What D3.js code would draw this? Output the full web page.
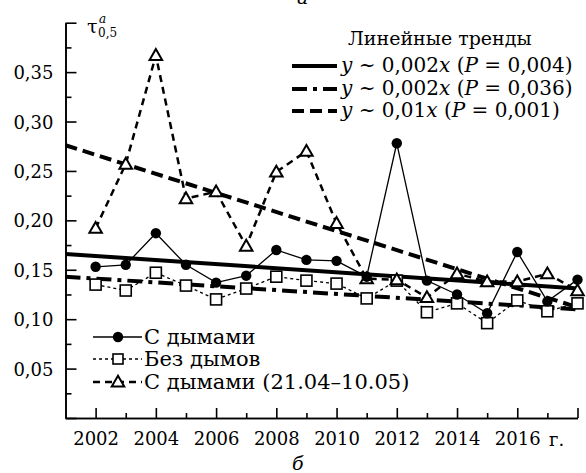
<!DOCTYPE html>
<html>
<head>
<meta charset="utf-8">
<script src="https://cdn.jsdelivr.net/npm/d3@7"></script>
<style>
  body { margin: 0; background: #fff; }
</style>
</head>
<body>
<div id="chart"></div>
<script>
var w = 586;
var h = 473;
var serif = "DejaVu Serif";

// data
var years = [2002, 2003, 2004, 2005, 2006, 2007, 2008, 2009, 2010,
             2011, 2012, 2013, 2014, 2015, 2016, 2017, 2018];
var withSmoke = [0.153, 0.155, 0.187, 0.155, 0.137, 0.144, 0.170, 0.160, 0.159,
                 0.143, 0.278, 0.139, 0.125, 0.106, 0.168, 0.118, 0.140];
var noSmoke = [0.135, 0.129, 0.147, 0.134, 0.120, 0.131, 0.143, 0.139, 0.136,
               0.121, 0.139, 0.107, 0.116, 0.096, 0.119, 0.108, 0.116];
var smokePeriod = [0.192, 0.257, 0.367, 0.222, 0.229, 0.174, 0.249, 0.270, 0.197,
                   0.141, 0.140, 0.122, 0.146, 0.138, 0.138, 0.146, 0.129];
var yTicks = [0.05, 0.10, 0.15, 0.20, 0.25, 0.30, 0.35];
var xTicks = [2002, 2004, 2006, 2008, 2010, 2012, 2014, 2016];

// linear trends (value at 2001 and at 2018)
var trendNames = ["y ~ 0,002x (P = 0,004)", "y ~ 0,002x (P = 0,036)", "y ~ 0,01x (P = 0,001)"];
var trendStart = [0.166, 0.143, 0.276];
var trendEnd = [0.131, 0.110, 0.112];
var trendDash = ["none", "15,6,4,6", "12,6"];

var x = d3.scaleLinear().domain([2001, 2018]).range([65.5, 577.5]);
var y = d3.scaleLinear().domain([0, 0.40]).range([418, 22.7]);

var svg = d3.select("#chart").append("svg")
    .attr("width", w)
    .attr("height", h);

// axes
var minorY = d3.range(0, 0.401, 0.025).filter(function(v){ return Math.round(v * 1000) % 50 != 0; });
var majorY = d3.range(0, 0.401, 0.05);
svg.append("g")
    .attr("transform", "translate(" + x(2001) + ",0)")
    .call(d3.axisLeft(y).tickValues(minorY).tickSizeInner(-6).tickSizeOuter(0).tickFormat(""));
var yAxis = svg.append("g")
    .attr("transform", "translate(" + x(2001) + ",0)")
    .call(d3.axisLeft(y).tickValues(majorY).tickSizeInner(-11).tickSizeOuter(0)
        .tickFormat(function(d){
            if (yTicks.some(function(t){ return Math.abs(t - d) < 1e-6; })) return d3.format(".2f")(d).replace(".", ",");
            return "";
        }));
yAxis.selectAll("text")
    .attr("x", -12).attr("dy", "0.36em").attr("data-fs", 18);

var minorX = d3.range(2003, 2018, 2);
var majorX = d3.range(2002, 2019, 2);
svg.append("g")
    .attr("transform", "translate(0," + y(0) + ")")
    .call(d3.axisBottom(x).tickValues(minorX).tickSizeInner(-5).tickSizeOuter(0).tickFormat(""));
var xAxis = svg.append("g")
    .attr("transform", "translate(0," + y(0) + ")")
    .call(d3.axisBottom(x).tickValues(majorX).tickSizeInner(-10).tickSizeOuter(0)
        .tickFormat(function(d){ return xTicks.indexOf(d) >= 0 ? d : ""; }));
xAxis.selectAll("text")
    .attr("y", 14).attr("dy", "0.71em").attr("data-fs", 18);
svg.selectAll(".domain, .tick line").attr("stroke", "#000").attr("stroke-width", 1.6);

svg.append("text").attr("x", 549).attr("y", 446).attr("data-fs", 18).text("г.");

// trend lines
trendStart.forEach(function(v, i){
    svg.append("line")
        .attr("x1", x(2001)).attr("y1", y(v))
        .attr("x2", x(2018)).attr("y2", y(trendEnd[i]))
        .attr("stroke", "#000").attr("stroke-width", 4)
        .attr("stroke-dasharray", trendDash[i]);
});

// series
var line = d3.line()
    .x(function(d, i){ return x(years[i]); })
    .y(function(d){ return y(d); });

svg.append("path").datum(noSmoke).attr("d", line)
    .attr("fill", "none").attr("stroke", "#000").attr("stroke-width", 1.3).attr("stroke-dasharray", "3,3");
svg.append("path").datum(smokePeriod).attr("d", line)
    .attr("fill", "none").attr("stroke", "#000").attr("stroke-width", 2.5).attr("stroke-dasharray", "7,5");
svg.append("path").datum(withSmoke).attr("d", line)
    .attr("fill", "none").attr("stroke", "#000").attr("stroke-width", 1.3);

var tri = d3.symbol().type(d3.symbolTriangle).size(68);

svg.selectAll(".sq").data(noSmoke).enter().append("rect")
    .attr("x", function(d, i){ return x(years[i]) - 5.5; })
    .attr("y", function(d){ return y(d) - 5.5; })
    .attr("width", 11).attr("height", 11)
    .attr("fill", "#fff").attr("stroke", "#000").attr("stroke-width", 1.6);

svg.selectAll(".tri").data(smokePeriod).enter().append("path")
    .attr("d", tri)
    .attr("transform", function(d, i){ return "translate(" + x(years[i]) + "," + (y(d) + 1) + ")"; })
    .attr("fill", "#fff").attr("stroke", "#000").attr("stroke-width", 2);

svg.selectAll(".dot").data(withSmoke).enter().append("circle")
    .attr("cx", function(d, i){ return x(years[i]); })
    .attr("cy", function(d){ return y(d); })
    .attr("r", 5.2).attr("fill", "#000");

// trend legend
svg.append("text").attr("x", 348).attr("y", 45).attr("data-fs", 19).text("Линейные тренды");
var legY = [66, 89, 111];
trendNames.forEach(function(name, i){
    svg.append("line")
        .attr("x1", 292).attr("x2", 337).attr("y1", legY[i]).attr("y2", legY[i])
        .attr("stroke", "#000").attr("stroke-width", 4)
        .attr("stroke-dasharray", trendDash[i]);
    var t = svg.append("text").attr("x", 341).attr("y", legY[i] + 6).attr("data-fs", 20);
    // italic y, x, P
    name.split(/([yxP])/).forEach(function(part){
        if (!part) return;
        t.append("tspan").style("font-style", /^[yxP]$/.test(part) ? "italic" : "normal").text(part);
    });
});

// series legend
var serNames = ["С дымами", "Без дымов", "С дымами (21.04–10.05)"];
var serY = [337, 359, 382];
svg.append("line").attr("x1", 93).attr("x2", 142).attr("y1", serY[0]).attr("y2", serY[0])
    .attr("stroke", "#000").attr("stroke-width", 1.3);
svg.append("circle").attr("cx", 118).attr("cy", serY[0]).attr("r", 5.2).attr("fill", "#000");
svg.append("line").attr("x1", 93).attr("x2", 142).attr("y1", serY[1]).attr("y2", serY[1])
    .attr("stroke", "#000").attr("stroke-width", 1.3).attr("stroke-dasharray", "3,3");
svg.append("rect").attr("x", 113).attr("y", serY[1] - 5).attr("width", 10).attr("height", 10)
    .attr("fill", "#fff").attr("stroke", "#000").attr("stroke-width", 1.6);
svg.append("line").attr("x1", 93).attr("x2", 142).attr("y1", serY[2]).attr("y2", serY[2])
    .attr("stroke", "#000").attr("stroke-width", 2.5).attr("stroke-dasharray", "7,5");
svg.append("path").attr("d", tri).attr("transform", "translate(118," + (serY[2] + 1) + ")")
    .attr("fill", "#fff").attr("stroke", "#000").attr("stroke-width", 2);
serNames.forEach(function(name, i){
    svg.append("text").attr("x", 144).attr("y", serY[i] + 7).attr("data-fs", 21).text(name);
});

// axis label tau
svg.append("text").attr("x", 87).attr("y", 33).attr("data-fs", 19).text("τ");
svg.append("text").attr("x", 98).attr("y", 37).attr("data-fs", 12).text("0,5");
svg.append("text").attr("x", 99).attr("y", 23).attr("data-fs", 12).style("font-style", "italic").text("a");

// panel letters
svg.append("text").attr("x", 297).attr("y", 4).attr("data-fs", 19).style("font-style", "italic").text("a");
svg.append("text").attr("x", 292).attr("y", 470).attr("data-fs", 19).style("font-style", "italic").text("б");

svg.selectAll("text").each(function(){
    var s = (this.getAttribute("data-fs") || 18) + "px";
    d3.select(this).attr("font-family", serif).style("font-family", serif)
        .attr("font-size", s).style("font-size", s).attr("fill", "#000");
});
</script>
</body>
</html>
